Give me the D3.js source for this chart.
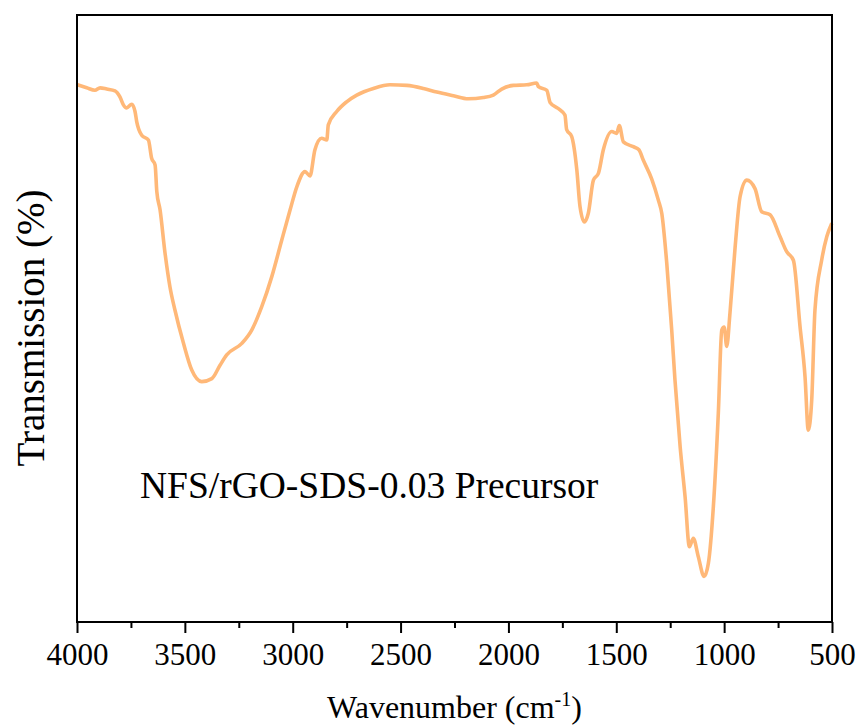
<!DOCTYPE html>
<html>
<head>
<meta charset="utf-8">
<script src="https://cdn.jsdelivr.net/npm/d3@7"></script>
<style>
  body { margin: 0; background: #fff; }
  text { font-family: "Liberation Serif", "Times New Roman", serif; fill: #000; }
</style>
</head>
<body>
<script>
// FTIR spectrum, wavenumber (cm-1) vs transmission (arb. %)
var wavenumber = [3998, 3955, 3917, 3893, 3862, 3824, 3801, 3785, 3770, 3746, 3731, 3723,
  3700, 3669, 3654, 3638, 3630, 3615, 3592, 3569, 3546, 3507, 3468, 3422, 3375, 3337,
  3306, 3236, 3190, 3144, 3097, 3051, 3012, 2981, 2943, 2920, 2897, 2866, 2842, 2835,
  2796, 2750, 2703, 2626, 2549, 2471, 2394, 2332, 2255, 2186, 2116, 2070, 2031, 1977,
  1915, 1869, 1861, 1822, 1807, 1769, 1738, 1730, 1707, 1683, 1668, 1648, 1630, 1606,
  1583, 1560, 1521, 1498, 1486, 1467, 1421, 1395, 1375, 1336, 1305, 1289, 1266, 1243,
  1228, 1204, 1181, 1161, 1143, 1120, 1093, 1073, 1050, 1027, 1011, 1000, 988, 973,
  949, 926, 895, 857, 826, 787, 741, 710, 679, 648, 625, 610, 594, 579, 548, 524, 501];
var transmission = [88.5, 88.0, 87.6, 88.0, 87.8, 87.5, 86.5, 85.2, 84.7, 85.3, 84.1, 82.4,
  80.2, 79.4, 76.4, 75.3, 70.9, 67.9, 60.8, 55.2, 51.4, 46.0, 41.5, 39.6, 40.1, 42.3,
  44.0, 45.9, 48.1, 51.9, 56.9, 62.9, 67.9, 71.7, 74.2, 73.5, 77.8, 79.7, 79.4, 81.9,
  84.1, 85.7, 86.8, 87.9, 88.5, 88.4, 87.9, 87.3, 86.7, 86.2, 86.4, 86.8, 87.8, 88.4,
  88.5, 88.8, 88.2, 87.6, 85.6, 84.6, 83.5, 81.1, 80.0, 74.5, 68.4, 65.9, 67.3, 72.8,
  73.9, 77.8, 80.8, 80.5, 81.8, 79.1, 78.3, 77.8, 76.1, 73.0, 69.5, 67.3, 59.1, 48.1,
  39.9, 28.9, 20.6, 12.4, 13.8, 10.8, 7.5, 9.7, 19.0, 34.4, 48.1, 48.6, 45.4, 50.9,
  61.8, 70.1, 72.8, 71.4, 67.6, 67.1, 63.5, 61.0, 59.6, 48.6, 40.4, 31.6, 36.6, 51.4,
  59.6, 63.5, 65.7];

var majorTicks = [4000, 3500, 3000, 2500, 2000, 1500, 1000, 500];
var minorTicks = [3750, 3250, 2750, 2250, 1750, 1250, 750];

var width  = 861,
    height = 727;
var margin = {top: 15, right: 29, bottom: 105, left: 77};

var svg = d3.select('body').append('svg')
    .attr('width', width)
    .attr('height', height);

var x = d3.scaleLinear()
    .domain([4000, 500])
    .range([margin.left, width - margin.right]);

var y = d3.scaleLinear()
    .domain([0, 100])
    .range([height - margin.bottom, margin.top]);

var points = wavenumber.map(function(w, i) { return [w, transmission[i]]; });

var line = d3.line()
    .x(function(d) { return x(d[0]); })
    .y(function(d) { return y(d[1]); })
    .curve(d3.curveMonotoneX);

svg.append('path')
    .datum(points)
    .attr('fill', 'none')
    .attr('stroke', '#ffb878')
    .attr('stroke-width', 3.6)
    .attr('stroke-linejoin', 'round')
    .attr('d', line);

// frame
svg.append('rect')
    .attr('x', x(4000))
    .attr('y', y(100))
    .attr('width', x(500) - x(4000))
    .attr('height', y(0) - y(100))
    .attr('fill', 'none')
    .attr('stroke', '#000')
    .attr('stroke-width', 2);

// bottom axis
var xAxis = svg.append('g')
    .attr('transform', 'translate(0,' + y(0) + ')')
    .call(d3.axisBottom(x).tickValues(majorTicks).tickSize(11).tickPadding(10)
      .tickFormat(d3.format('d')));
xAxis.select('.domain').remove();
xAxis.selectAll('line').attr('stroke-width', 2);
xAxis.selectAll('text')
    .style('font-family', '"Liberation Serif", serif')
    .style('font-size', '31px');

svg.append('g')
    .attr('transform', 'translate(0,' + y(0) + ')')
    .call(d3.axisBottom(x).tickValues(minorTicks).tickSize(6).tickFormat(''))
    .call(function(g) { g.select('.domain').remove(); })
    .selectAll('line').attr('stroke-width', 2);

// axis titles
var xt = svg.append('text')
    .attr('x', (x(4000) + x(500)) / 2)
    .attr('y', 718)
    .attr('text-anchor', 'middle')
    .style('font-size', '32px');
xt.append('tspan').text('Wavenumber (cm');
xt.append('tspan').attr('dy', -12).style('font-size', '20px').text('-1');
xt.append('tspan').attr('dy', 12).text(')');

svg.append('text')
    .attr('transform', 'translate(44,328) rotate(-90)')
    .attr('text-anchor', 'middle')
    .style('font-size', '39px')
    .text('Transmission (%)');

svg.append('text')
    .attr('x', 140)
    .attr('y', 498)
    .style('font-size', '37.5px')
    .text('NFS/rGO-SDS-0.03 Precursor');
</script>
</body>
</html>
